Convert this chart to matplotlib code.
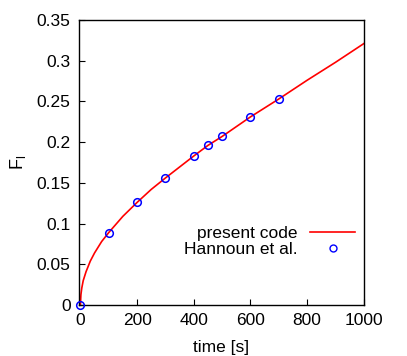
import matplotlib
matplotlib.use("Agg")
import matplotlib.pyplot as plt
from matplotlib.lines import Line2D

plt.rcParams["font.family"] = ["Liberation Sans", "DejaVu Sans"]
plt.rcParams["font.size"] = 11

# simulation curve (present code)
t_code = [0, 2, 5, 10, 20, 35, 50, 75, 100, 150, 200, 250, 300, 400, 450, 500,
          600, 700, 800, 900, 1000]
f_code = [0, 0.013, 0.021, 0.030, 0.041, 0.054, 0.064, 0.078, 0.089, 0.109, 0.126,
          0.142, 0.156, 0.183, 0.196, 0.207, 0.231, 0.253, 0.276, 0.298, 0.321]

# reference data (Hannoun et al.)
t_ref = [0, 100, 200, 300, 400, 450, 500, 600, 700]
f_ref = [0, 0.089, 0.126, 0.156, 0.183, 0.196, 0.207, 0.231, 0.253]

fig = plt.figure(figsize=(4.07, 3.56), dpi=100)
ax = fig.add_axes([0.194, 0.143, 0.70, 0.801])

ax.plot(t_code, f_code, color="red", linewidth=1.2)
ax.plot(t_ref, f_ref, linestyle="none", marker="o", markersize=5.5,
        markerfacecolor="none", markeredgecolor="blue", markeredgewidth=1.1,
        clip_on=False, zorder=5)

ax.set_xlim(-5, 1000)
ax.set_ylim(0, 0.35)
ax.set_xticks([0, 200, 400, 600, 800, 1000])
ax.set_yticks([0, 0.05, 0.1, 0.15, 0.2, 0.25, 0.3, 0.35])
ax.set_yticklabels(["0", "0.05", "0.1", "0.15", "0.2", "0.25", "0.3", "0.35"])
ax.tick_params(direction="in", length=4, width=0.8, labelsize=12.5, pad=6)
for s in ax.spines.values():
    s.set_linewidth(1.0)

ax.set_xlabel("time [s]", fontsize=12.5, labelpad=8)
ax.set_ylabel(r"F$_\mathregular{l}$", fontsize=13, labelpad=6)

handles = [Line2D([], [], color="red", linewidth=1.2),
           Line2D([], [], linestyle="none", marker="o", markersize=5,
                  markerfacecolor="none", markeredgecolor="blue")]
leg = ax.legend(handles, ["present code", "Hannoun et al."], loc="lower right",
                bbox_to_anchor=(0.994, 0.145), frameon=False, markerfirst=False,
                fontsize=12.5, handlelength=2.6, handletextpad=0.7,
                labelspacing=0.05, borderaxespad=0)
for txt in leg.get_texts():
    txt.set_ha("right")
leg._legend_box.align = "right"

plt.savefig("out.png", dpi=100)
plt.close()
